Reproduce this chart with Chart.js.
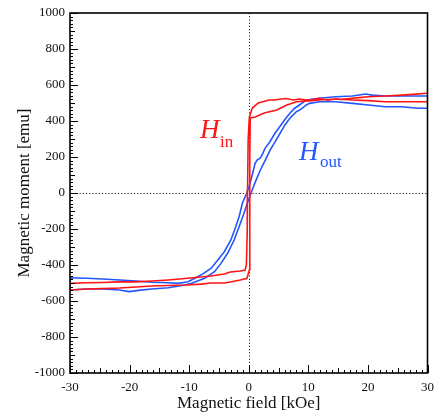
<!DOCTYPE html>
<html>
<head>
<meta charset="utf-8">
<script src="https://cdn.jsdelivr.net/npm/chart.js@4.4.0/dist/chart.umd.min.js"></script>
<style>
  body { margin: 0; background: #fff; }
  #wrap { width: 441px; height: 414px; }
</style>
</head>
<body>
<div id="wrap"><canvas id="loopChart" width="441" height="414"></canvas></div>
<script>
// H_in loop, field swept down from +30 then back up
const redDescField = [30, 27.5, 25.7, 22.9, 20.1, 18.5, 17.4, 15.5, 14.6, 13.2, 11.8, 10.5, 9.7, 8.5, 7.5, 6.3, 5.5, 4.2, 3.4, 2.2, 1.6, 0.6, 0.1, -0.1, -0.2, -0.25, -0.4, -0.6, -1.4, -3.1, -4.1, -6.4, -8.0, -10.7, -13.5, -16.3, -18.9, -21.7, -24.5, -27.3, -30];
const redDescMoment = [554, 548, 544, 539, 535, 530, 526, 520, 522, 515, 526, 518, 517, 522, 517, 525, 522, 517, 517, 506, 500, 472, 422, 294, 17, -206, -400, -428, -433, -439, -450, -461, -467, -475, -483, -489, -494, -494, -497, -499, -502];
const redAscField = [-30, -27.2, -24.5, -21.7, -18.9, -16.3, -13.5, -10.7, -8.0, -6.4, -4.1, -3.1, -1.4, -0.3, 0.1, 0.15, 0.2, 0.25, 1.1, 2.6, 4.7, 6.4, 8.0, 10.0, 11.8, 14.6, 17.4, 20.1, 22.9, 25.7, 30];
const redAscMoment = [-539, -533, -531, -528, -522, -517, -514, -511, -506, -500, -500, -494, -483, -474, -428, -150, 200, 417, 422, 444, 461, 489, 507, 512, 517, 522, 517, 513, 507, 507, 507];

// H_out loop
const blueDescField = [30, 28.3, 25.7, 22.9, 20.7, 19.6, 17.4, 14.6, 11.8, 9.7, 8.5, 7.7, 6.9, 6.0, 5.2, 4.4, 3.55, 2.73, 2.23, 1.9, 1.4, 1.07, 0.58, 0.08, -0.25, -1.07, -1.62, -2.18, -3.0, -4.1, -5.2, -6.3, -8.0, -9.6, -10.2, -11.8, -13.5, -16.3, -18.9, -21.7, -24.5, -27.2, -30];
const blueDescMoment = [539, 539, 539, 539, 544, 550, 539, 535, 526, 517, 489, 471, 443, 406, 368, 332, 285, 248, 211, 193, 183, 165, 100, 39, 7, -57, -132, -187, -261, -326, -372, -418, -456, -483, -493, -502, -499, -496, -489, -483, -478, -474, -471];
const blueAscField = [-30, -27.2, -24.5, -21.7, -20.1, -18.5, -16.3, -13.5, -10.7, -9.6, -7.4, -5.75, -4.66, -3.55, -2.45, -1.62, -0.8, -0.25, 0.58, 1.12, 1.95, 2.78, 3.6, 4.43, 5.26, 6.08, 6.9, 8.0, 8.56, 9.67, 10.2, 11.87, 14.6, 17.4, 20.1, 22.9, 25.65, 28.4, 30];
const blueAscMoment = [-539, -533, -533, -539, -548, -541, -533, -526, -511, -502, -474, -437, -391, -335, -261, -187, -113, -57, 17, 63, 128, 183, 239, 285, 332, 378, 415, 452, 461, 489, 498, 507, 507, 498, 489, 479, 479, 471, 471];

const xTickLabels = [-30, -20, -10, 0, 10, 20, 30];
const yTickLabels = [-1000, -800, -600, -400, -200, 0, 200, 400, 600, 800, 1000];

const RED = '#ff1414';
const BLUE = '#2457ff';
const SERIF = '"Liberation Serif", "Times New Roman", serif';

function toPoints(fields, moments) {
  return fields.map((h, i) => ({ x: h, y: moments[i] }));
}

const redPoints = toPoints(redDescField, redDescMoment).concat(toPoints(redAscField, redAscMoment));
const bluePoints = toPoints(blueDescField, blueDescMoment).concat(toPoints(blueAscField, blueAscMoment));

// ROOT-like frame: inward ticks, dotted zero lines, H labels
const framePlugin = {
  id: 'framePlugin',
  beforeDatasetsDraw(chart) {
    const ctx = chart.ctx;
    const area = chart.chartArea;
    const xs = chart.scales.x, ys = chart.scales.y;
    ctx.save();
    ctx.strokeStyle = '#222';
    ctx.lineWidth = 1;
    ctx.setLineDash([1.2, 2]);
    const x0 = Math.round(xs.getPixelForValue(0)) + 0.5;
    const y0 = Math.round(ys.getPixelForValue(0)) + 0.5;
    ctx.beginPath();
    ctx.moveTo(x0, area.top); ctx.lineTo(x0, area.bottom);
    ctx.moveTo(area.left, y0); ctx.lineTo(area.right, y0);
    ctx.stroke();
    ctx.restore();
  },
  afterDatasetsDraw(chart) {
    const ctx = chart.ctx;
    const area = chart.chartArea;
    const xs = chart.scales.x, ys = chart.scales.y;
    ctx.save();
    ctx.strokeStyle = '#000';
    ctx.lineWidth = 1;
    ctx.beginPath();
    for (let v = -1000; v <= 1000; v += 20) {
      const len = v % 200 === 0 ? 8 : (v % 100 === 0 ? 5 : 3);
      const y = Math.round(ys.getPixelForValue(v)) + 0.5;
      ctx.moveTo(area.left, y); ctx.lineTo(area.left + len, y);
    }
    for (let v = -30; v <= 30; v += 1) {
      const len = v % 10 === 0 ? 8 : (v % 5 === 0 ? 5 : 3);
      const x = Math.round(xs.getPixelForValue(v)) + 0.5;
      ctx.moveTo(x, area.bottom); ctx.lineTo(x, area.bottom - len);
    }
    ctx.stroke();
    ctx.lineWidth = 1.6;
    ctx.strokeRect(area.left, area.top, area.right - area.left, area.bottom - area.top);

    ctx.textBaseline = 'alphabetic';
    ctx.textAlign = 'left';
    ctx.fillStyle = RED;
    ctx.font = 'italic 27px ' + SERIF;
    ctx.fillText('H', 200, 138);
    ctx.font = '17px ' + SERIF;
    ctx.fillText('in', 220, 147);
    ctx.fillStyle = BLUE;
    ctx.font = 'italic 27px ' + SERIF;
    ctx.fillText('H', 299, 160);
    ctx.font = '17px ' + SERIF;
    ctx.fillText('out', 320, 167);
    ctx.restore();
  }
};

new Chart(document.getElementById('loopChart'), {
  type: 'scatter',
  data: {
    datasets: [
      {
        label: 'H in',
        data: redPoints,
        showLine: true,
        borderColor: RED,
        borderWidth: 1.6,
        pointRadius: 0,
        tension: 0,
        fill: false
      },
      {
        label: 'H out',
        data: bluePoints,
        showLine: true,
        borderColor: BLUE,
        borderWidth: 1.6,
        pointRadius: 0,
        tension: 0,
        fill: false
      }
    ]
  },
  options: {
    responsive: false,
    animation: false,
    layout: { padding: { left: 0, right: 8, top: 13, bottom: 0 } },
    plugins: {
      legend: { display: false },
      tooltip: { enabled: false }
    },
    scales: {
      x: {
        type: 'linear',
        min: -30,
        max: 30,
        afterFit: s => { s.height = 41; },
        afterBuildTicks: s => { s.ticks = xTickLabels.map(v => ({ value: v })); },
        grid: { display: false, drawTicks: false },
        border: { display: false },
        ticks: {
          color: '#111',
          font: { family: SERIF, size: 13 },
          padding: 7,
          maxRotation: 0,
          callback: v => String(v)
        },
        title: {
          display: true,
          text: 'Magnetic field [kOe]',
          color: '#111',
          font: { family: SERIF, size: 17 },
          padding: { top: 0, bottom: 0 }
        }
      },
      y: {
        type: 'linear',
        min: -1000,
        max: 1000,
        afterFit: s => { s.width = 70; },
        afterBuildTicks: s => { s.ticks = yTickLabels.map(v => ({ value: v })); },
        grid: { display: false, drawTicks: false },
        border: { display: false },
        ticks: {
          color: '#111',
          font: { family: SERIF, size: 13 },
          padding: 5,
          callback: v => String(v)
        },
        title: {
          display: true,
          text: 'Magnetic moment [emu]',
          color: '#111',
          font: { family: SERIF, size: 17 },
          padding: { top: 14, bottom: 0 }
        }
      }
    }
  },
  plugins: [framePlugin]
});
</script>
</body>
</html>
